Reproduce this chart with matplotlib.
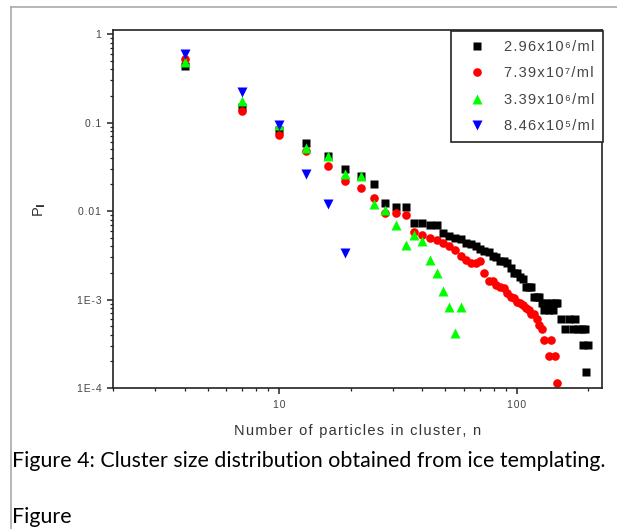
import matplotlib.pyplot as plt
from matplotlib.lines import Line2D
from matplotlib.ticker import NullFormatter, LogLocator

plt.rcParams['font.family'] = ['Liberation Sans', 'DejaVu Sans']

# cluster size n and probability P for each concentration
n_black = [4, 7, 10, 13, 16, 19, 22, 25, 28, 31, 34, 37, 40, 43, 46, 49, 52, 55, 58, 61,
           64, 67, 70, 73, 76, 79, 82, 85, 88, 91, 94, 97, 100, 103, 106, 109, 112, 115, 118,
           121, 124, 127, 130, 133, 136, 139, 142, 145, 148, 154, 160, 166, 172, 175, 181,
           187, 190, 193, 196, 199]
p_black = [0.43, 0.148, 0.082, 0.058, 0.042, 0.030, 0.025, 0.0204, 0.0124, 0.0112, 0.0112,
           0.0074, 0.0074, 0.0069, 0.0069, 0.0056, 0.0052, 0.0050, 0.0048, 0.0043, 0.0042,
           0.0040, 0.0037, 0.0035, 0.0034, 0.0031, 0.0030, 0.0027, 0.0027, 0.0026, 0.0023,
           0.0020, 0.0020, 0.0018, 0.0017, 0.0014, 0.0014, 0.0014, 0.00107, 0.00107, 0.00107,
           0.00092, 0.000765, 0.00092, 0.000765, 0.00092, 0.000765, 0.00092, 0.00092,
           0.00061, 0.00046, 0.00061, 0.00046, 0.00061, 0.00046, 0.00046, 0.000306, 0.00046,
           0.000153, 0.000306]

n_red = [4, 7, 10, 13, 16, 19, 22, 25, 28, 31, 34, 37, 40, 43, 46, 49, 52, 55, 58, 61, 64,
         67, 70, 73, 76, 79, 82, 85, 88, 91, 94, 97, 100, 103, 106, 109, 112, 115, 118, 121,
         124, 127, 130, 136, 139, 145, 148]
p_red = [0.517, 0.136, 0.072, 0.048, 0.0325, 0.022, 0.018, 0.0139, 0.0094, 0.0094, 0.0090,
         0.0058, 0.0054, 0.0050, 0.0047, 0.0043, 0.0040, 0.0036, 0.0031, 0.0028, 0.0026,
         0.0026, 0.0027, 0.0020, 0.0016, 0.0016, 0.00146, 0.0014, 0.00134, 0.0012, 0.00107,
         0.00103, 0.00095, 0.00092, 0.00087, 0.0008, 0.00076, 0.00069, 0.00069, 0.0006,
         0.00052, 0.00046, 0.000345, 0.00023, 0.000345, 0.00023, 0.000115]

n_green = [4, 7, 10, 13, 16, 19, 22, 25, 28, 31, 34, 37, 40, 43, 46, 49, 52, 55, 58]
p_green = [0.486, 0.176, 0.094, 0.051, 0.042, 0.026, 0.025, 0.012, 0.0104, 0.007, 0.0041,
           0.0054, 0.0046, 0.0028, 0.002, 0.00126, 0.00082, 0.00042, 0.00082]

n_blue = [4, 7, 10, 13, 16, 19]
p_blue = [0.6, 0.223, 0.094, 0.0262, 0.012, 0.00338]

labels = ['2.96x10\u2076/ml', '7.39x10\u2077/ml', '3.39x10\u2076/ml', '8.46x10\u2075/ml']
xtick_labels = ['10', '100']
ytick_labels = ['1E-4', '1E-3', '0.01', '0.1', '1']


def spaced(s):
    # the exported Origin text is drawn with a little extra letter spacing
    return '\u200a'.join(s)


fig = plt.figure(figsize=(6.17, 5.29), dpi=100)
ax = fig.add_axes([0.1831, 0.2665, 0.7926, 0.6767])

ax.plot(n_black, p_black, 's', color='black', ms=5.8, mec='none', label=spaced(labels[0]))
ax.plot(n_red, p_red, 'o', color='#ff0000', ms=6.2, mec='none', label=spaced(labels[1]))
ax.plot(n_green, p_green, '^', color='#00ff00', ms=7.2, mec='none', label=spaced(labels[2]))
ax.plot(n_blue, p_blue, 'v', color='#0000ff', ms=7.8, mec='none', label=spaced(labels[3]))

ax.set_xscale('log')
ax.set_yscale('log')
ax.set_xlim(2, 228)
ax.set_ylim(1e-4, 1.11)

ax.set_xticks([10, 100])
ax.set_xticklabels([spaced(t) for t in xtick_labels])
ax.set_yticks([1e-4, 1e-3, 1e-2, 1e-1, 1])
ax.set_yticklabels([spaced(t) for t in ytick_labels])
ax.xaxis.set_minor_locator(LogLocator(base=10, subs=range(2, 10)))
ax.yaxis.set_minor_locator(LogLocator(base=10, subs=range(2, 10)))
ax.xaxis.set_minor_formatter(NullFormatter())
ax.yaxis.set_minor_formatter(NullFormatter())

ax.tick_params(which='major', direction='out', length=4, width=1.1, labelsize=7.5,
               labelcolor='#444444', color='#222222', pad=4.5)
ax.tick_params(which='minor', direction='out', length=2.5, width=0.9, color='#222222')
ax.tick_params(top=False, right=False, which='both')
for s in ax.spines.values():
    s.set_linewidth(1.2)
    s.set_color('#222222')

ax.set_xlabel(spaced('Number of particles in cluster, n'), fontsize=10.5, color='#333333',
              labelpad=10)
fig.text(0.064, 1 - 210 / 529, r'P$_\mathbf{I}$', rotation=90, fontsize=10.5,
         color='#333333', ha='center', va='center')

leg = ax.legend(loc='upper right', bbox_to_anchor=(1.002, 0.997), borderaxespad=0,
                fancybox=False, edgecolor='#222222', framealpha=1, fontsize=10.5,
                labelspacing=0.85, handletextpad=0.6, borderpad=0.6, handlelength=2.4,
                numpoints=1)
leg.get_frame().set_linewidth(1.2)
for t in leg.get_texts():
    t.set_color('#444444')

# caption and page frame from the source document
fig.text(12 / 617, 1 - 461 / 529,
         'Figure 4: Cluster size distribution obtained from ice templating.',
         family='Lato', fontsize=15.4, color='black', ha='left', va='center')
fig.text(12 / 617, 1 - 527 / 529, 'Figure', family='Lato', fontsize=15.4,
         color='black', ha='left', va='bottom')
fig.add_artist(Line2D([11 / 617, 11 / 617], [0, 1 - 7 / 529], color='#aaaaaa', lw=1.2))
fig.add_artist(Line2D([11 / 617, 1], [1 - 7 / 529, 1 - 7 / 529], color='#aaaaaa', lw=1.2))

fig.savefig('out.png', dpi=100)
